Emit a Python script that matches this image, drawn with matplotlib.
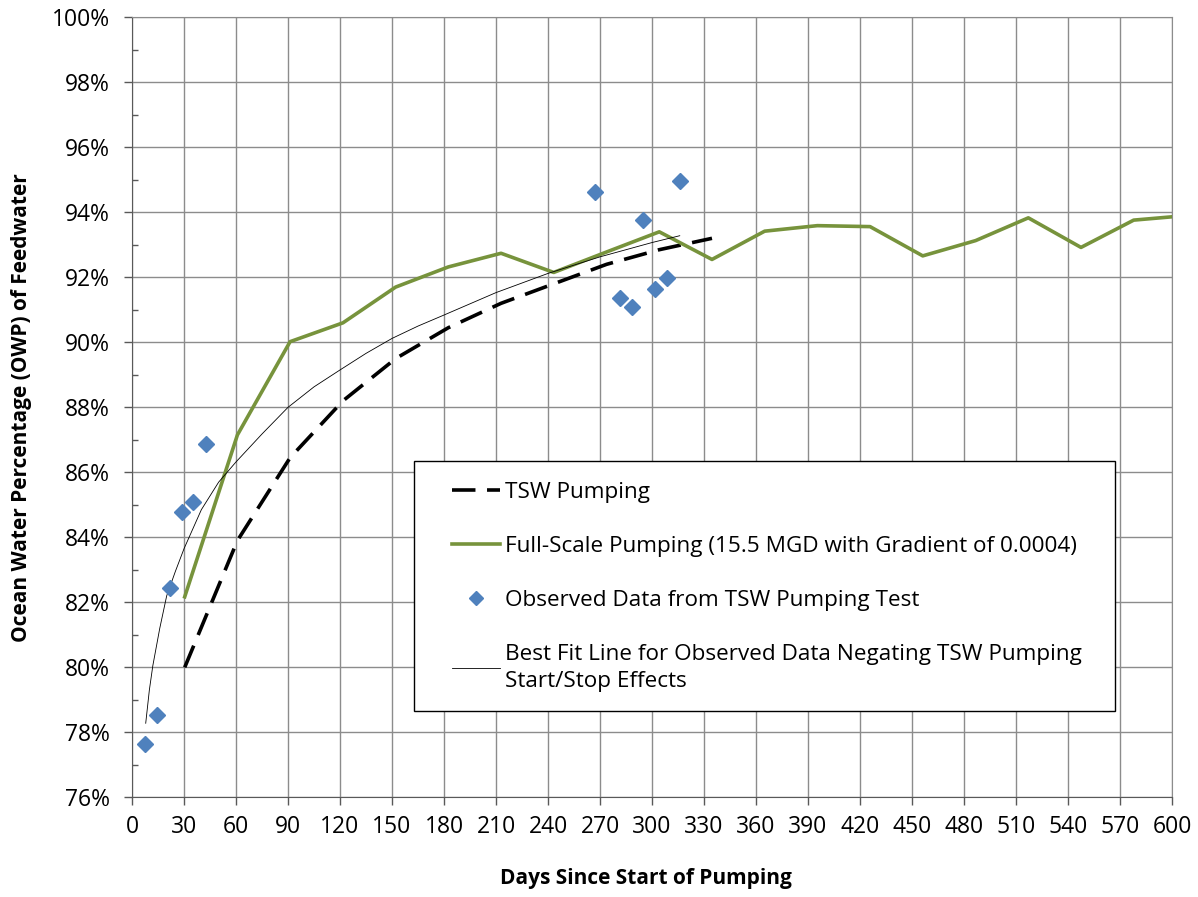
import numpy as np
import matplotlib
matplotlib.use("Agg")
import matplotlib.pyplot as plt
from matplotlib.patches import Rectangle
from matplotlib.ticker import MultipleLocator, PercentFormatter

plt.rcParams["font.family"] = ["Open Sans", "DejaVu Sans"]

# TSW pumping (dashed), monthly steps
tsw_days = [30.4, 60.8, 91.2, 121.7, 152.1, 182.5, 212.9, 243.3, 273.8, 304.2, 334.6]
tsw_owp = [80.0, 83.9, 86.45, 88.2, 89.5, 90.45, 91.2, 91.8, 92.4, 92.85, 93.2]

# Full-scale pumping (green)
full_days = [30.4, 60.8, 91.2, 121.7, 152.1, 182.5, 212.9, 243.3, 273.8, 304.2,
             334.6, 365.0, 395.4, 425.8, 456.2, 486.7, 517.1, 547.5, 577.9, 608.3]
full_owp = [82.17, 87.15, 90.02, 90.6, 91.7, 92.32, 92.74, 92.15, 92.78, 93.4,
            92.55, 93.42, 93.59, 93.56, 92.66, 93.13, 93.83, 92.92, 93.76, 93.9]

# Observed data from TSW pumping test
obs_days = [7.5, 14.2, 21.9, 28.6, 35.3, 42.5, 267.0, 281.3, 288.2, 294.9, 302.0, 308.9, 316.2]
obs_owp = [77.64, 78.54, 82.43, 84.79, 85.10, 86.88, 94.62, 91.37, 91.08, 93.75, 91.65, 91.97, 94.96]

# Best fit line
fit_days = [7.9, 10, 12, 16, 20, 25, 30, 40, 50, 60, 75, 90, 105, 120, 135, 150, 165,
            180, 210, 240, 270, 300, 316]
fit_owp = [78.28, 79.3, 80.05, 81.2, 82.2, 82.95, 83.65, 84.85, 85.7, 86.32, 87.18, 88.0, 88.63,
           89.15, 89.66, 90.12, 90.5, 90.84, 91.53, 92.12, 92.63, 93.07, 93.28]

fig = plt.figure(figsize=(11.98, 8.97), dpi=100)
ax = fig.add_axes([0.1102, 0.1111, 0.8681, 0.8696])

ax.plot(tsw_days, tsw_owp, color="black", lw=2.6, dashes=(6.5, 3.2),
        label="TSW Pumping", zorder=3)
ax.plot(full_days, full_owp, color="#77933C", lw=2.6,
        label="Full-Scale Pumping (15.5 MGD with Gradient of 0.0004)", zorder=3)
ax.plot(obs_days, obs_owp, ls="none", marker="D", ms=8, color="#4F81BD",
        label="Observed Data from TSW Pumping Test", zorder=4)
ax.plot(fit_days, fit_owp, color="black", lw=0.6,
        label="Best Fit Line for Observed Data Negating TSW Pumping\nStart/Stop Effects", zorder=3)

ax.set_xlim(0, 600)
ax.set_ylim(76, 100)
ax.xaxis.set_major_locator(MultipleLocator(30))
ax.yaxis.set_major_locator(MultipleLocator(2))
ax.yaxis.set_minor_locator(MultipleLocator(1))
ax.yaxis.set_major_formatter(PercentFormatter(decimals=0))

ax.grid(True, which="major", color="#8c8c8c", lw=1)
ax.set_axisbelow(True)
for s in ax.spines.values():
    s.set_color("#8c8c8c")
ax.spines["left"].set_color("#595959")
ax.spines["bottom"].set_color("#595959")

ax.tick_params(axis="both", which="major", direction="out", length=6, width=1,
               color="#595959", labelsize=16.5, labelcolor="black")
ax.tick_params(axis="y", which="major", pad=10)
ax.tick_params(axis="x", which="major", pad=7)
ax.tick_params(axis="y", which="minor", direction="in", length=4, width=1, color="#595959")
ax.tick_params(axis="x", which="minor", length=0)

ax.set_xlabel("Days Since Start of Pumping", fontsize=15, fontweight="bold")
ax.set_ylabel("Ocean Water Percentage (OWP) of Feedwater", fontsize=15, fontweight="bold")
ax.xaxis.set_label_coords(0.494, -0.091)
ax.yaxis.set_label_coords(-0.106, 0.5)
ax.yaxis.label.set_va("center")

# legend box drawn separately so the entries can sit further in
ax.add_patch(Rectangle((0.271, 0.1106), 0.674, 0.3204, transform=ax.transAxes,
                       facecolor="white", edgecolor="black", lw=1.0, zorder=5))
leg = ax.legend(loc="upper left", bbox_to_anchor=(0.3077, 0.4049),
                fontsize=16.2, frameon=False, handlelength=2.13,
                handletextpad=0.22, labelspacing=1.47, borderpad=0,
                borderaxespad=0, markerscale=0.9)
leg.get_texts()[3].set_linespacing(1.38)
leg.set_zorder(6)

fig.savefig("out.png", dpi=100)
